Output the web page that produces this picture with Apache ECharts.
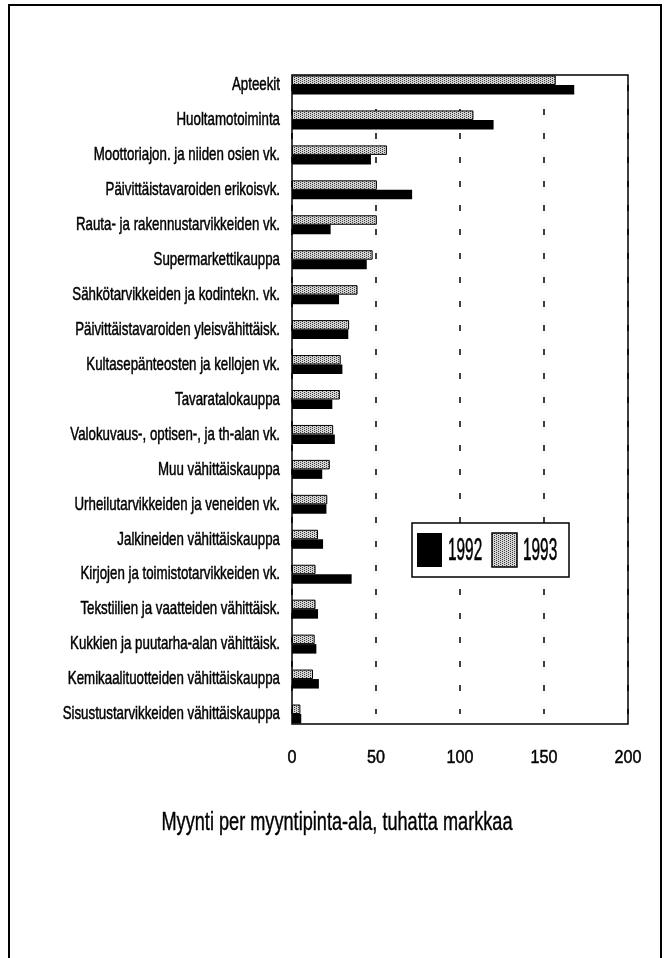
<!DOCTYPE html>
<html lang="fi">
<head>
    <meta charset="UTF-8"/>
    <title>Myynti per myyntipinta-ala</title>
    <script src="https://cdn.jsdelivr.net/npm/echarts@6/dist/echarts.min.js"></script>
    <style>
        html, body { margin: 0; padding: 0; background: #fff; }
        #chart { width: 670px; height: 958px; }
    </style>
</head>
<body>
<div id="chart"></div>
<script type="text/javascript">
    // toimialat ylhäältä alas
    var categories = [
        'Apteekit',
        'Huoltamotoiminta',
        'Moottoriajon. ja niiden osien vk.',
        'Päivittäistavaroiden erikoisvk.',
        'Rauta- ja rakennustarvikkeiden vk.',
        'Supermarkettikauppa',
        'Sähkötarvikkeiden ja kodintekn. vk.',
        'Päivittäistavaroiden yleisvähittäisk.',
        'Kultasepänteosten ja kellojen vk.',
        'Tavaratalokauppa',
        'Valokuvaus-, optisen-, ja th-alan vk.',
        'Muu vähittäiskauppa',
        'Urheilutarvikkeiden ja veneiden vk.',
        'Jalkineiden vähittäiskauppa',
        'Kirjojen ja toimistotarvikkeiden vk.',
        'Tekstiilien ja vaatteiden vähittäisk.',
        'Kukkien ja puutarha-alan vähittäisk.',
        'Kemikaalituotteiden vähittäiskauppa',
        'Sisustustarvikkeiden vähittäiskauppa'
    ];
    var values1992 = [168, 120, 47, 71.5, 23, 44.5, 28, 33.5, 30, 24, 25.5, 18, 20.5, 18.5, 35.5, 15.5, 14.5, 16, 5.5];
    var values1993 = [157, 108, 56.5, 50.5, 50.5, 48, 39, 34, 29, 28.5, 24.5, 22.5, 21, 15.5, 14, 14, 13.5, 12.5, 5];
    var xTicks = [0, 50, 100, 150, 200];
    var titleText = 'Myynti per myyntipinta-ala, tuhatta markkaa';

    var FONT = '"Liberation Sans", Arial, sans-serif';

    // rasteri 1993-palkeille
    function makeDots() {
        var c = document.createElement('canvas');
        c.width = 4; c.height = 4;
        var g = c.getContext('2d');
        g.fillStyle = '#d4d4d4';
        g.fillRect(0, 0, 4, 4);
        g.fillStyle = '#3a3a3a';
        for (var y = 0; y < 4; y++) {
            for (var x = 0; x < 4; x++) {
                if ((x + 2 * y) % 4 === 0) g.fillRect(x, y, 1, 1);
            }
        }
        return c;
    }
    var dots = { image: makeDots(), repeat: 'repeat' };

    var gridLeft = 292, gridRight = 42, gridTop = 85, gridBottom = 244;
    var pad = 10;

    var myChart = echarts.init(document.getElementById('chart'));
    var option = {
        animation: false,
        backgroundColor: '#fff',
        grid: { left: gridLeft, right: gridRight, top: gridTop, bottom: gridBottom },
        xAxis: {
            type: 'value',
            min: xTicks[0],
            max: xTicks[xTicks.length - 1],
            interval: 50,
            axisLine: { show: false },
            axisTick: { show: false },
            axisLabel: { show: false },
            splitLine: { show: true, lineStyle: { color: '#000', width: 1.5, type: [6, 18] } }
        },
        yAxis: {
            type: 'category',
            data: categories,
            inverse: true,
            boundaryGap: false,
            axisLine: { show: false },
            axisTick: { show: false },
            axisLabel: { show: false }
        },
        series: [
            {
                name: '1993',
                type: 'bar',
                data: values1993,
                barWidth: 9.5,
                barGap: '0%',
                itemStyle: { color: dots, borderColor: '#000', borderWidth: 1 }
            },
            {
                name: '1992',
                type: 'bar',
                data: values1992,
                barWidth: 9.5,
                barGap: '0%',
                itemStyle: { color: '#000' }
            }
        ]
    };
    myChart.setOption(option);

    // kapea, korkea teksti kuten alkuperäisessä (skaalattu vaakasuunnassa)
    function narrowText(x, y, text, size, sx, align, weight) {
        return {
            type: 'text',
            x: x, y: y, scaleX: sx, z: 102,
            style: {
                text: text, x: 0, y: 0,
                fontFamily: FONT, fontSize: size, fill: '#000',
                stroke: '#000', lineWidth: weight || 0.5,
                align: align, verticalAlign: 'middle'
            }
        };
    }

    var g = [];
    // kehykset
    g.push({
        type: 'rect', z: 100,
        shape: { x: gridLeft, y: gridTop - pad, width: 670 - gridLeft - gridRight, height: 958 - gridBottom - gridTop + 2 * pad },
        style: { fill: 'none', stroke: '#000', lineWidth: 1.5 }
    });
    g.push({
        type: 'rect', z: 100,
        shape: { x: 9, y: 5, width: 652, height: 980 },
        style: { fill: 'none', stroke: '#000', lineWidth: 2 }
    });
    // luokkien nimet
    categories.forEach(function (name) {
        var py = myChart.convertToPixel({ yAxisIndex: 0 }, name);
        g.push(narrowText(gridLeft - 12, py, name, 19, 0.70, 'right', 0.5));
    });
    // x-akselin arvot
    var axisBottom = 958 - gridBottom + pad;
    xTicks.forEach(function (v) {
        var px = myChart.convertToPixel({ xAxisIndex: 0 }, v);
        g.push(narrowText(px, axisBottom + 34, String(v), 19, 0.85, 'center', 0.5));
    });
    // otsikko
    g.push(narrowText(337, 823, titleText, 25, 0.726, 'center', 0.4));
    // selite
    g.push({
        type: 'rect', z: 100,
        shape: { x: 412, y: 523, width: 157, height: 54 },
        style: { fill: '#fff', stroke: '#000', lineWidth: 1.5 }
    });
    g.push({ type: 'rect', z: 101, shape: { x: 417, y: 533, width: 25, height: 34 }, style: { fill: '#000' } });
    g.push(narrowText(448, 551, '1992', 32, 0.48, 'left', 0.6));
    g.push({ type: 'rect', z: 101, shape: { x: 492, y: 533, width: 25, height: 34 }, style: { fill: dots, stroke: '#000', lineWidth: 1.5 } });
    g.push(narrowText(523, 551, '1993', 32, 0.48, 'left', 0.6));

    myChart.setOption({ graphic: g });
</script>
</body>
</html>
